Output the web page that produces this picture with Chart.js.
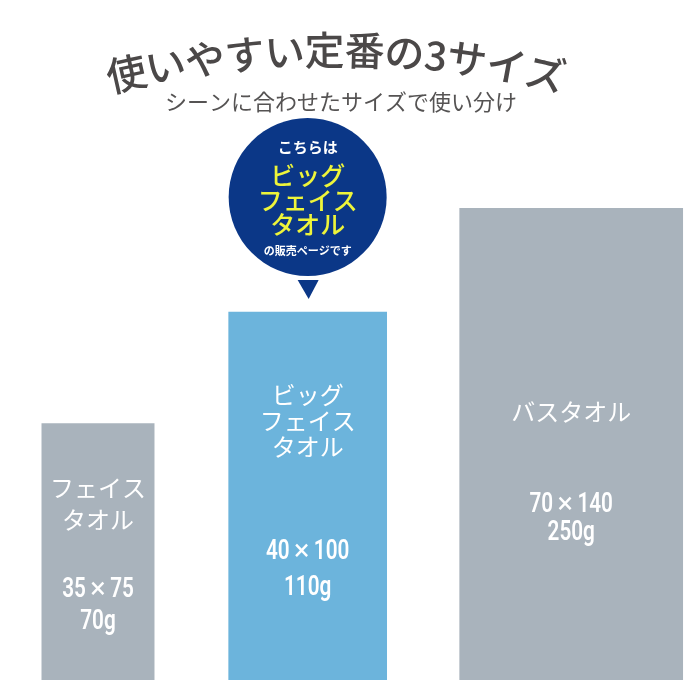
<!DOCTYPE html>
<html>
<head>
<meta charset="utf-8">
<script src="https://cdn.jsdelivr.net/npm/chart.js@4.4.1/dist/chart.umd.min.js"></script>
<style>
  html, body { margin: 0; padding: 0; background: #fff; }
  #wrap { width: 700px; height: 700px; }
</style>
</head>
<body>
<div id="wrap"><canvas id="towelChart" width="700" height="700"></canvas></div>
<script>
// towel data
const towelNames = [['フェイス', 'タオル'], ['ビッグ', 'フェイス', 'タオル'], ['バスタオル']];
const towelSizes = ['35×75', '40×100', '70×140'];
const towelWeights = ['70g', '110g', '250g'];
// bar extent across the picture (percent of width) and relative height (tallest = 100)
const barStart = [5.9, 32.6, 65.6];
const barEnd = [22.1, 55.3, 97.6];
const barHeight = [54.4, 78.0, 100];
const highlightIndex = 1;

const titleText = '使いやすい定番の3サイズ';
const subtitleText = 'シーンに合わせたサイズで使い分け';
const bubbleLines = ['こちらは', 'ビッグ', 'フェイス', 'タオル', 'の販売ページです'];

// label layout, pixel rows for the text inside each bar
const labelLayout = [
  { nameY: 488, nameGap: 32, specY: 590, specGap: 32 },
  { nameY: 395, nameGap: 26, specY: 552, specGap: 36 },
  { nameY: 412, nameGap: 30, specY: 505, specGap: 28 }
];

const GRAY = '#a9b3bc';
const BLUE = '#6cb4dc';
const NAVY = '#0b3787';
const YELLOW = '#eef53a';
const JP = '"Noto Sans CJK JP", "Noto Sans", sans-serif';
const NUM = 'Roboto, "Noto Sans", sans-serif';

const datasets = barHeight.map((h, i) => ({
  label: towelNames[i].join(''),
  data: [{ x: barStart[i], y: h }, { x: barEnd[i], y: h }],
  backgroundColor: i === highlightIndex ? BLUE : GRAY,
  borderWidth: 0,
  pointRadius: 0,
  fill: 'origin',
  tension: 0
}));

function drawTitle(ctx) {
  ctx.save();
  ctx.fillStyle = '#4b4848';
  ctx.font = '500 40px ' + JP;
  ctx.textAlign = 'center';
  ctx.textBaseline = 'middle';
  const R = 950, cx = 336, topY = 50;
  const chars = Array.from(titleText);
  const widths = chars.map(c => ctx.measureText(c).width);
  const total = widths.reduce((a, b) => a + b, 0);
  let s = -total / 2;
  chars.forEach((c, k) => {
    const mid = s + widths[k] / 2;
    const a = mid / R;
    ctx.save();
    ctx.translate(cx + R * Math.sin(a), topY + R - R * Math.cos(a));
    ctx.rotate(a);
    ctx.fillText(c, 0, 0);
    ctx.restore();
    s += widths[k];
  });
  ctx.fillStyle = '#555353';
  ctx.font = '400 22px ' + JP;
  ctx.fillText(subtitleText, 341, 102);
  ctx.restore();
}

function drawBubble(ctx, cx) {
  ctx.save();
  ctx.fillStyle = NAVY;
  ctx.beginPath();
  ctx.arc(cx, 197, 79, 0, Math.PI * 2);
  ctx.fill();
  ctx.beginPath();
  ctx.moveTo(cx - 10, 280);
  ctx.lineTo(cx + 11, 280);
  ctx.lineTo(cx + 1, 299);
  ctx.closePath();
  ctx.fill();
  ctx.textAlign = 'center';
  ctx.textBaseline = 'middle';
  ctx.fillStyle = '#ffffff';
  ctx.font = 'bold 15px ' + JP;
  ctx.fillText(bubbleLines[0], cx, 147);
  ctx.fillStyle = YELLOW;
  ctx.font = '500 25px ' + JP;
  ctx.fillText(bubbleLines[1], cx, 175);
  ctx.fillText(bubbleLines[2], cx, 200);
  ctx.fillText(bubbleLines[3], cx, 224);
  ctx.fillStyle = '#ffffff';
  ctx.font = 'bold 11px ' + JP;
  ctx.fillText(bubbleLines[4], cx, 251);
  ctx.restore();
}

// condensed numeric label: digits squeezed, "×" given some room
function drawSpec(ctx, text, cx, cy) {
  const parts = text.split('×');
  const digitFont = '600 28px ' + NUM;
  const crossFont = '400 30px ' + NUM;
  ctx.save();
  ctx.translate(cx, cy);
  ctx.scale(0.74, 1);
  ctx.font = digitFont;
  if (parts.length === 2) {
    const gap = 6;
    const w0 = ctx.measureText(parts[0]).width;
    const w1 = ctx.measureText(parts[1]).width;
    ctx.font = crossFont;
    const wx = ctx.measureText('×').width * 1.3;
    const total = w0 + w1 + wx + gap * 2;
    let left = -total / 2;
    ctx.textAlign = 'left';
    ctx.font = digitFont;
    ctx.fillText(parts[0], left, 0);
    left += w0 + gap;
    ctx.save();
    ctx.translate(left + wx / 2, 0);
    ctx.scale(1.3, 1);
    ctx.font = crossFont;
    ctx.textAlign = 'center';
    ctx.fillText('×', 0, 0);
    ctx.restore();
    left += wx + gap;
    ctx.font = digitFont;
    ctx.fillText(parts[1], left, 0);
  } else {
    ctx.textAlign = 'center';
    ctx.fillText(text, 0, 0);
  }
  ctx.restore();
}

const decorPlugin = {
  id: 'decor',
  afterDatasetsDraw(chart) {
    const ctx = chart.ctx;
    const x = chart.scales.x;
    drawTitle(ctx);
    ctx.save();
    ctx.fillStyle = '#ffffff';
    ctx.textAlign = 'center';
    ctx.textBaseline = 'middle';
    barHeight.forEach((h, i) => {
      const cx = (x.getPixelForValue(barStart[i]) + x.getPixelForValue(barEnd[i])) / 2;
      const lay = labelLayout[i];
      ctx.font = '400 24px ' + JP;
      towelNames[i].forEach((line, k) => ctx.fillText(line, cx, lay.nameY + k * lay.nameGap));
      drawSpec(ctx, towelSizes[i], cx, lay.specY);
      drawSpec(ctx, towelWeights[i], cx, lay.specY + lay.specGap);
      if (i === highlightIndex) drawBubble(ctx, cx);
    });
    ctx.restore();
  }
};

new Chart(document.getElementById('towelChart').getContext('2d'), {
  type: 'line',
  data: { datasets },
  options: {
    responsive: false,
    animation: false,
    devicePixelRatio: 1,
    layout: { padding: { top: 208, bottom: 20, left: 0, right: 0 } },
    scales: {
      x: { type: 'linear', min: 0, max: 100, display: false },
      y: { min: 0, max: 100, display: false }
    },
    plugins: { legend: { display: false }, tooltip: { enabled: false } }
  },
  plugins: [decorPlugin]
});
</script>
</body>
</html>
